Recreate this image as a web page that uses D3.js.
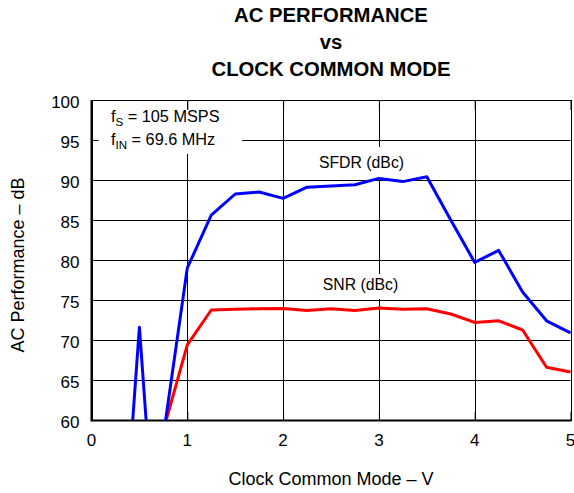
<!DOCTYPE html>
<html>
<head>
<meta charset="utf-8">
<script src="https://cdn.jsdelivr.net/npm/d3@7"></script>
<style>
	body { margin: 0; background: #fff; }
	svg { display: block; font-family: "Liberation Sans", Arial, sans-serif; }
</style>
</head>
<body>
<div id="chart"></div>
<script>
(function () {
	'use strict';

	// chart values
	var titleLines = ["AC PERFORMANCE", "vs", "CLOCK COMMON MODE"];
	var xTicks = [0, 1, 2, 3, 4, 5];
	var yTicks = [60, 65, 70, 75, 80, 85, 90, 95, 100];

	var sfdrVolts = [0.25, 0.5, 0.6, 0.75, 1, 1.25, 1.5, 1.75, 2, 2.25, 2.5, 2.75, 3, 3.25, 3.5, 3.75, 4, 4.25, 4.5, 4.75, 5];
	var sfdrValues = [30, 71.6, 55, 58, 79.0, 85.6, 88.25, 88.5, 87.7, 89.1, 89.25, 89.4, 90.2, 89.8, 90.4, 85.0, 79.7, 81.2, 76.0, 72.4, 70.9];

	var snrVolts = [0.5, 0.75, 1, 1.25, 1.5, 1.75, 2, 2.25, 2.5, 2.75, 3, 3.25, 3.5, 3.75, 4, 4.25, 4.5, 4.75, 5];
	var snrValues = [50, 58.7, 69.4, 73.75, 73.85, 73.9, 73.95, 73.7, 73.9, 73.7, 74.0, 73.85, 73.9, 73.25, 72.2, 72.4, 71.25, 66.6, 66.0];

	var width = 574, height = 493;
	var left = 91.5, right = 570.5, top = 100, bottom = 420;

	var svg = d3.select("#chart")
		.append("svg")
		.attr("width", width)
		.attr("height", height);

	var x = d3.scaleLinear().domain([0, 5]).range([left, right]);
	var y = d3.scaleLinear().domain([60, 100]).range([bottom, top]);

	// title
	svg.selectAll("text.title")
		.data(titleLines)
		.enter()
			.append("text")
			.attr("class", "title")
			.attr("x", 331)
			.attr("y", function(d, i){return 21.7 + i * 27.2;})
			.attr("text-anchor", "middle")
			.attr("font-size", 20.3)
			.attr("font-weight", "bold")
			.text(function(d){return d;});

	// grid
	var grid = svg.append("g").attr("stroke", "#000").attr("stroke-width", 1);
	grid.selectAll("line.gx")
		.data(xTicks)
		.enter()
			.append("line")
			.attr("x1", function(d){return Math.round(x(d)) + 0.5;})
			.attr("x2", function(d){return Math.round(x(d)) + 0.5;})
			.attr("y1", top)
			.attr("y2", bottom);
	grid.selectAll("line.gy")
		.data(yTicks)
		.enter()
			.append("line")
			.attr("y1", function(d){return Math.round(y(d)) + 0.5;})
			.attr("y2", function(d){return Math.round(y(d)) + 0.5;})
			.attr("x1", left)
			.attr("x2", right);

	// white boxes behind annotations
	svg.append("rect").attr("x", 98).attr("y", 109).attr("width", 144).attr("height", 45).attr("fill", "#fff");
	svg.append("rect").attr("x", 314).attr("y", 147).attr("width", 96).attr("height", 32).attr("fill", "#fff");
	svg.append("rect").attr("x", 317).attr("y", 274).attr("width", 88).attr("height", 25).attr("fill", "#fff");

	// inward ticks via axes
	var yAxis = d3.axisLeft(y).tickValues(yTicks).tickSize(-7).tickFormat("");
	var xAxisTop = d3.axisTop(x).tickValues(xTicks).tickSize(-10).tickFormat("");
	var xAxisBottom = d3.axisBottom(x).tickValues(xTicks).tickSize(-8).tickFormat("");
	[
		svg.append("g").attr("transform", "translate(" + left + ",0)").call(yAxis),
		svg.append("g").attr("transform", "translate(0," + top + ")").call(xAxisTop),
		svg.append("g").attr("transform", "translate(0," + bottom + ")").call(xAxisBottom)
	].forEach(function(g){
		g.select(".domain").remove();
		g.selectAll("line").attr("stroke", "#000");
	});

	// tick labels
	svg.selectAll("text.ylab")
		.data(yTicks)
		.enter()
			.append("text")
			.attr("class", "ylab")
			.attr("x", 79.5)
			.attr("y", function(d){return y(d) + 8;})
			.attr("text-anchor", "end")
			.attr("font-size", 17)
			.text(function(d){return d;});
	svg.selectAll("text.xlab")
		.data(xTicks)
		.enter()
			.append("text")
			.attr("class", "xlab")
			.attr("x", function(d){return x(d);})
			.attr("y", 446)
			.attr("text-anchor", "middle")
			.attr("font-size", 17)
			.text(function(d){return d;});

	// axis titles
	svg.append("text")
		.attr("x", 331)
		.attr("y", 485)
		.attr("text-anchor", "middle")
		.attr("font-size", 18)
		.text("Clock Common Mode \u2013 V");
	svg.append("text")
		.attr("transform", "translate(24," + ((top + bottom) / 2 + 5) + ") rotate(-90)")
		.attr("text-anchor", "middle")
		.attr("font-size", 18)
		.text("AC Performance \u2013 dB");

	// annotation
	var ann = svg.append("g").attr("font-size", 16.3);
	var a1 = ann.append("text").attr("x", 111).attr("y", 122);
	a1.append("tspan").text("f");
	a1.append("tspan").attr("font-size", 11.5).attr("dy", 4).text("S");
	a1.append("tspan").attr("dy", -4).text(" = 105 MSPS");
	var a2 = ann.append("text").attr("x", 111).attr("y", 145);
	a2.append("tspan").text("f");
	a2.append("tspan").attr("font-size", 11.5).attr("dy", 4).text("IN");
	a2.append("tspan").attr("dy", -4).text(" = 69.6 MHz");

	// series labels
	svg.append("text").attr("x", 361.5).attr("y", 167.5).attr("text-anchor", "middle").attr("font-size", 15.8).text("SFDR (dBc)");
	svg.append("text").attr("x", 360.5).attr("y", 289.5).attr("text-anchor", "middle").attr("font-size", 15.8).text("SNR (dBc)");

	// frame
	svg.append("rect")
		.attr("x", left).attr("y", top + 0.5)
		.attr("width", right - left + 1).attr("height", bottom - top)
		.attr("fill", "none").attr("stroke", "#000").attr("stroke-width", 1);
	svg.append("line").attr("x1", left).attr("x2", left).attr("y1", top).attr("y2", bottom + 1.5)
		.attr("stroke", "#000").attr("stroke-width", 2);
	svg.append("line").attr("x1", left).attr("x2", right + 1).attr("y1", bottom + 0.5).attr("y2", bottom + 0.5)
		.attr("stroke", "#000").attr("stroke-width", 2);

	// clip for series
	svg.append("clipPath").attr("id", "plotClip")
		.append("rect")
		.attr("x", left).attr("y", top)
		.attr("width", right - left + 2).attr("height", bottom - top);

	var line = d3.line()
		.x(function(d){return x(d[0]);})
		.y(function(d){return y(d[1]);});

	var series = [
		{volts: snrVolts, values: snrValues, color: "#ff0000"},
		{volts: sfdrVolts, values: sfdrValues, color: "#0000ff"}
	];

	svg.append("g")
		.attr("clip-path", "url(#plotClip)")
		.selectAll("path")
		.data(series)
		.enter()
			.append("path")
			.attr("fill", "none")
			.attr("stroke", function(d){return d.color;})
			.attr("stroke-width", 3)
			.attr("stroke-linejoin", "round")
			.attr("d", function(d){
				return line(d.volts.map(function(v, i){return [v, d.values[i]];}));
			});
}());
</script>
</body>
</html>
